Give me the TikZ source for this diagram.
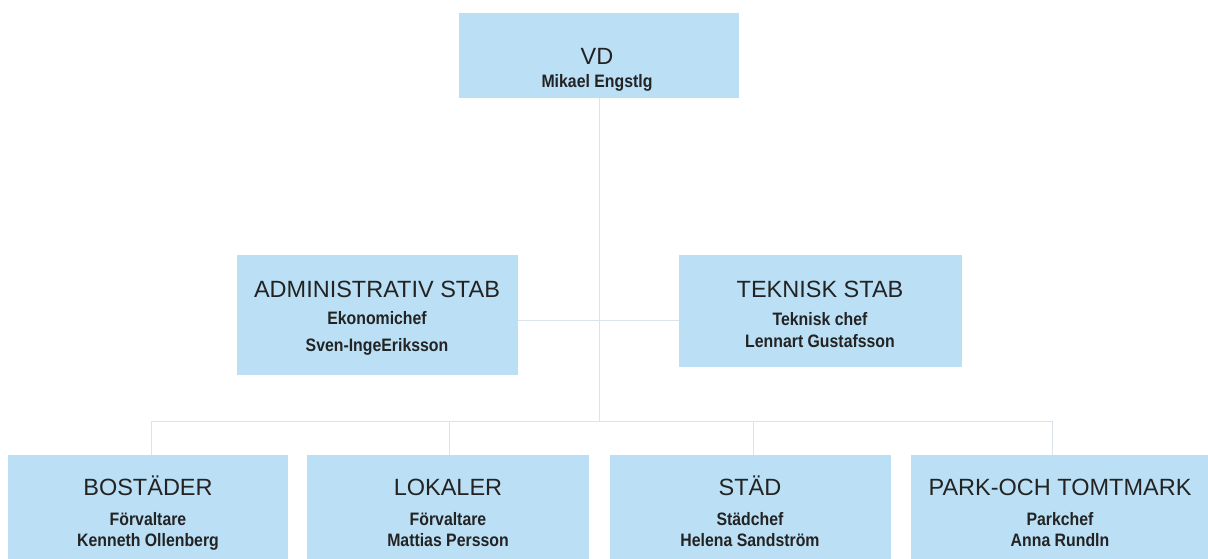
\documentclass[tikz,border=0pt]{standalone}
\usepackage{fontspec}
\setmainfont{Liberation Sans}
\newfontfamily\subfont{Liberation Sans}[FakeStretch=0.88]
\definecolor{boxblue}{RGB}{187,224,245}
\definecolor{txt}{RGB}{35,35,35}
\definecolor{conn}{RGB}{220,228,235}
\tikzset{
  orgbox/.style={fill=boxblue, draw=none, inner sep=0pt, anchor=north west},
  ttl/.style={anchor=base, text=txt, inner sep=0pt, font=\fontsize{23.5}{26}\selectfont},
  sub/.style={anchor=base, text=txt, inner sep=0pt, font=\subfont\bfseries\fontsize{18}{20}\selectfont},
  link/.style={draw=conn, line width=1pt}
}
\begin{document}
\begin{tikzpicture}[x=1pt,y=-1pt]
\useasboundingbox (0,0) rectangle (1208,559);
% boxes
\node[orgbox, minimum width=280pt, minimum height=85pt] (vd) at (459,13) {};
\node[orgbox, minimum width=281pt, minimum height=120pt] (adm) at (237,255) {};
\node[orgbox, minimum width=283pt, minimum height=112pt] (tek) at (679,255) {};
\node[orgbox, minimum width=280pt, minimum height=104pt] (bos) at (8,455) {};
\node[orgbox, minimum width=282pt, minimum height=104pt] (lok) at (307,455) {};
\node[orgbox, minimum width=281pt, minimum height=104pt] (sta) at (610,455) {};
\node[orgbox, minimum width=297pt, minimum height=104pt] (par) at (911,455) {};
% connectors
\coordinate (bus) at (599,421);
\coordinate (busL) at (151,421);
\coordinate (busR) at (1052,421);
\coordinate (busB) at (449,421);
\coordinate (busC) at (753,421);
\draw[link] (vd.south -| bus) -- (bus);
\draw[link] (adm.east |- 0,320) -- (tek.west |- 0,320);
\draw[link] (busL) -- (busR);
\draw[link] (busL) -- (bos.north -| busL);
\draw[link] (busB) -- (lok.north -| busB);
\draw[link] (busC) -- (sta.north -| busC);
\draw[link] (busR) -- (par.north -| busR);
% texts
\node[ttl] (vdt) at (597,65) {VD};
\node[sub] (vdn) at (597,88) {Mikael Engstlg};
\node[ttl] (admt) at (377,297) {ADMINISTRATIV STAB};
\node[sub] (admr) at (377,324) {Ekonomichef};
\node[sub] (admn) at (377,351) {Sven-IngeEriksson};
\node[ttl] (tekt) at (820,297) {TEKNISK STAB};
\node[sub] (tekr) at (820,325) {Teknisk chef};
\node[sub] (tekn) at (820,347) {Lennart Gustafsson};
\node[ttl] (bost) at (148,495) {BOSTÄDER};
\node[sub] (bosr) at (148,525) {Förvaltare};
\node[sub] (bosn) at (148,546) {Kenneth Ollenberg};
\node[ttl] (lokt) at (448,495) {LOKALER};
\node[sub] (lokr) at (448,525) {Förvaltare};
\node[sub] (lokn) at (448,546) {Mattias Persson};
\node[ttl] (stat) at (750,495) {STÄD};
\node[sub] (star) at (750,525) {Städchef};
\node[sub] (stan) at (750,546) {Helena Sandström};
\node[ttl] (part) at (1060,495) {PARK-OCH TOMTMARK};
\node[sub] (parr) at (1060,525) {Parkchef};
\node[sub] (parn) at (1060,546) {Anna Rundln};
\end{tikzpicture}
\end{document}
